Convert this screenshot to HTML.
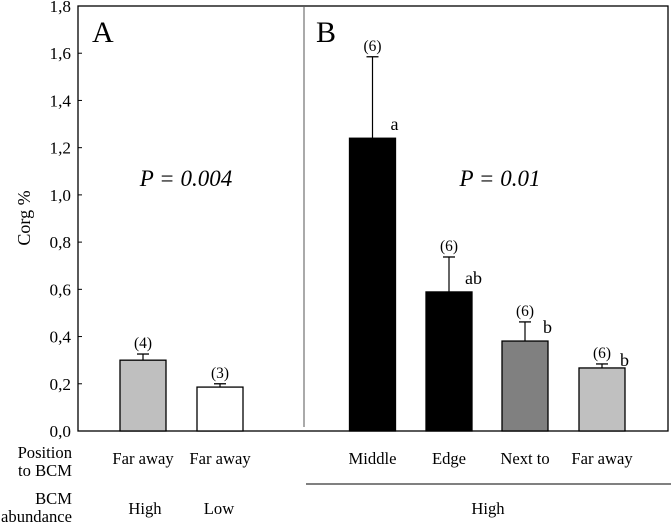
<!DOCTYPE html>
<html><head><meta charset="utf-8"><style>
html,body{margin:0;padding:0;background:#fff;}
svg{display:block;}
text{font-family:"Liberation Serif",serif;}
</style></head><body>
<svg id="chart" width="671" height="523" viewBox="0 0 671 523">
<g id="axes"></g><g id="marks"></g><g id="labels"></g>
</svg>
<script>
const categories = ["Far away","Far away","Middle","Edge","Next to","Far away"];
const values = [0.30,0.186,1.24,0.589,0.381,0.267];
const errors = [0.026,0.014,0.345,0.148,0.081,0.017];
const nLabels = ["(4)","(3)","(6)","(6)","(6)","(6)"];
const sigLetters = ["","","a","ab","b","b"];
const yTicks = [0,0.2,0.4,0.6,0.8,1.0,1.2,1.4,1.6,1.8];
const yTickLabels = ["0,0","0,2","0,4","0,6","0,8","1,0","1,2","1,4","1,6","1,8"];

const NS="http://www.w3.org/2000/svg";
const FF="Liberation Serif";
const X0=78,X1=668,Y0=431,Y1=6;
const centers=[143,220,372.5,449,525,602];
const fills=["#bfbfbf","#ffffff","#000000","#000000","#808080","#c0c0c0"];
const y=v=>Y0-(v/1.8)*(Y0-Y1);
function mk(tag,attrs,parent,text){const e=document.createElementNS(NS,tag);for(const k in attrs)e.setAttribute(k,attrs[k]);if(tag==='text')e.setAttribute('font-family',FF);if(text!==undefined)e.textContent=text;parent.appendChild(e);return e;}
const axes=document.getElementById('axes'),marks=document.getElementById('marks'),labels=document.getElementById('labels');

let fr=mk('rect',{x:X0,y:Y1,width:X1-X0,height:Y0-Y1,fill:'none',stroke:'#000','stroke-width':1.3},axes);


let dv=mk('line',{x1:304,x2:304,y1:Y1+1,y2:427,stroke:'#555','stroke-width':1},axes);



yTicks.forEach((t,i)=>{
  let l=mk('line',{x1:X0,x2:X0+4,y1:y(t),y2:y(t),stroke:'#000'},axes);
  
  
  let tx=mk('text',{x:71,y:y(t)+6,'text-anchor':'end','font-size':17.2},axes,yTickLabels[i]);
  
  
});

values.forEach((v,i)=>{
  const c=centers[i],w=46;
  const et=y(v+errors[i]);
  let el=mk('line',{x1:c,x2:c,y1:y(v),y2:et,stroke:'#000','stroke-width':1.2},marks);
  
  
  let ec=mk('line',{x1:c-6,x2:c+6,y1:et,y2:et,stroke:'#000','stroke-width':1.3},marks);
  
  
  let r=mk('rect',{x:c-w/2,y:y(v),width:w,height:Y0-y(v),fill:fills[i],stroke:'#000','stroke-width':1.3},marks);
  
  
  let n=mk('text',{x:c,y:et-6,'text-anchor':'middle','font-size':15.4},labels,nLabels[i]);
  
  
  if(sigLetters[i]){
    let s=mk('text',{x:c+(sigLetters[i].length>1?16:18),y:i===5?y(v)-2:y(v)-8,'font-size':18},labels,sigLetters[i]);
    
    
  }
  let cl=mk('text',{x:c,y:464,'text-anchor':'middle','font-size':16.6},labels,categories[i]);
  
  
});
</script>
<script>
(function(){
const s=document.getElementById('labels');
s.insertAdjacentHTML('beforeend',`
<text x="92" y="42" font-size="30" font-family="Liberation Serif">A</text>
<text x="316" y="42" font-size="30" font-family="Liberation Serif">B</text>
<text x="186" y="186" font-size="23" font-family="Liberation Serif" font-style="italic" text-anchor="middle">P = 0.004</text>
<text x="500" y="186" font-size="23" font-family="Liberation Serif" font-style="italic" text-anchor="middle">P = 0.01</text>
<text transform="translate(30,218) rotate(-90)" font-size="18" font-family="Liberation Serif" text-anchor="middle">Corg %</text>
<text x="72" y="458" font-size="16.6" font-family="Liberation Serif" text-anchor="end">Position</text>
<text x="72" y="476" font-size="16.6" font-family="Liberation Serif" text-anchor="end">to BCM</text>
<text x="72" y="504" font-size="16.6" font-family="Liberation Serif" text-anchor="end">BCM</text>
<text x="72" y="522" font-size="16.6" font-family="Liberation Serif" text-anchor="end">abundance</text>
<text x="145" y="514" font-size="16.6" font-family="Liberation Serif" text-anchor="middle">High</text>
<text x="219" y="514" font-size="16.6" font-family="Liberation Serif" text-anchor="middle">Low</text>
<line x1="306" x2="671" y1="484" y2="484" stroke="#000"/>
<text x="488" y="514" font-size="16.6" font-family="Liberation Serif" text-anchor="middle">High</text>
`);
})();
</script>
</body></html>
